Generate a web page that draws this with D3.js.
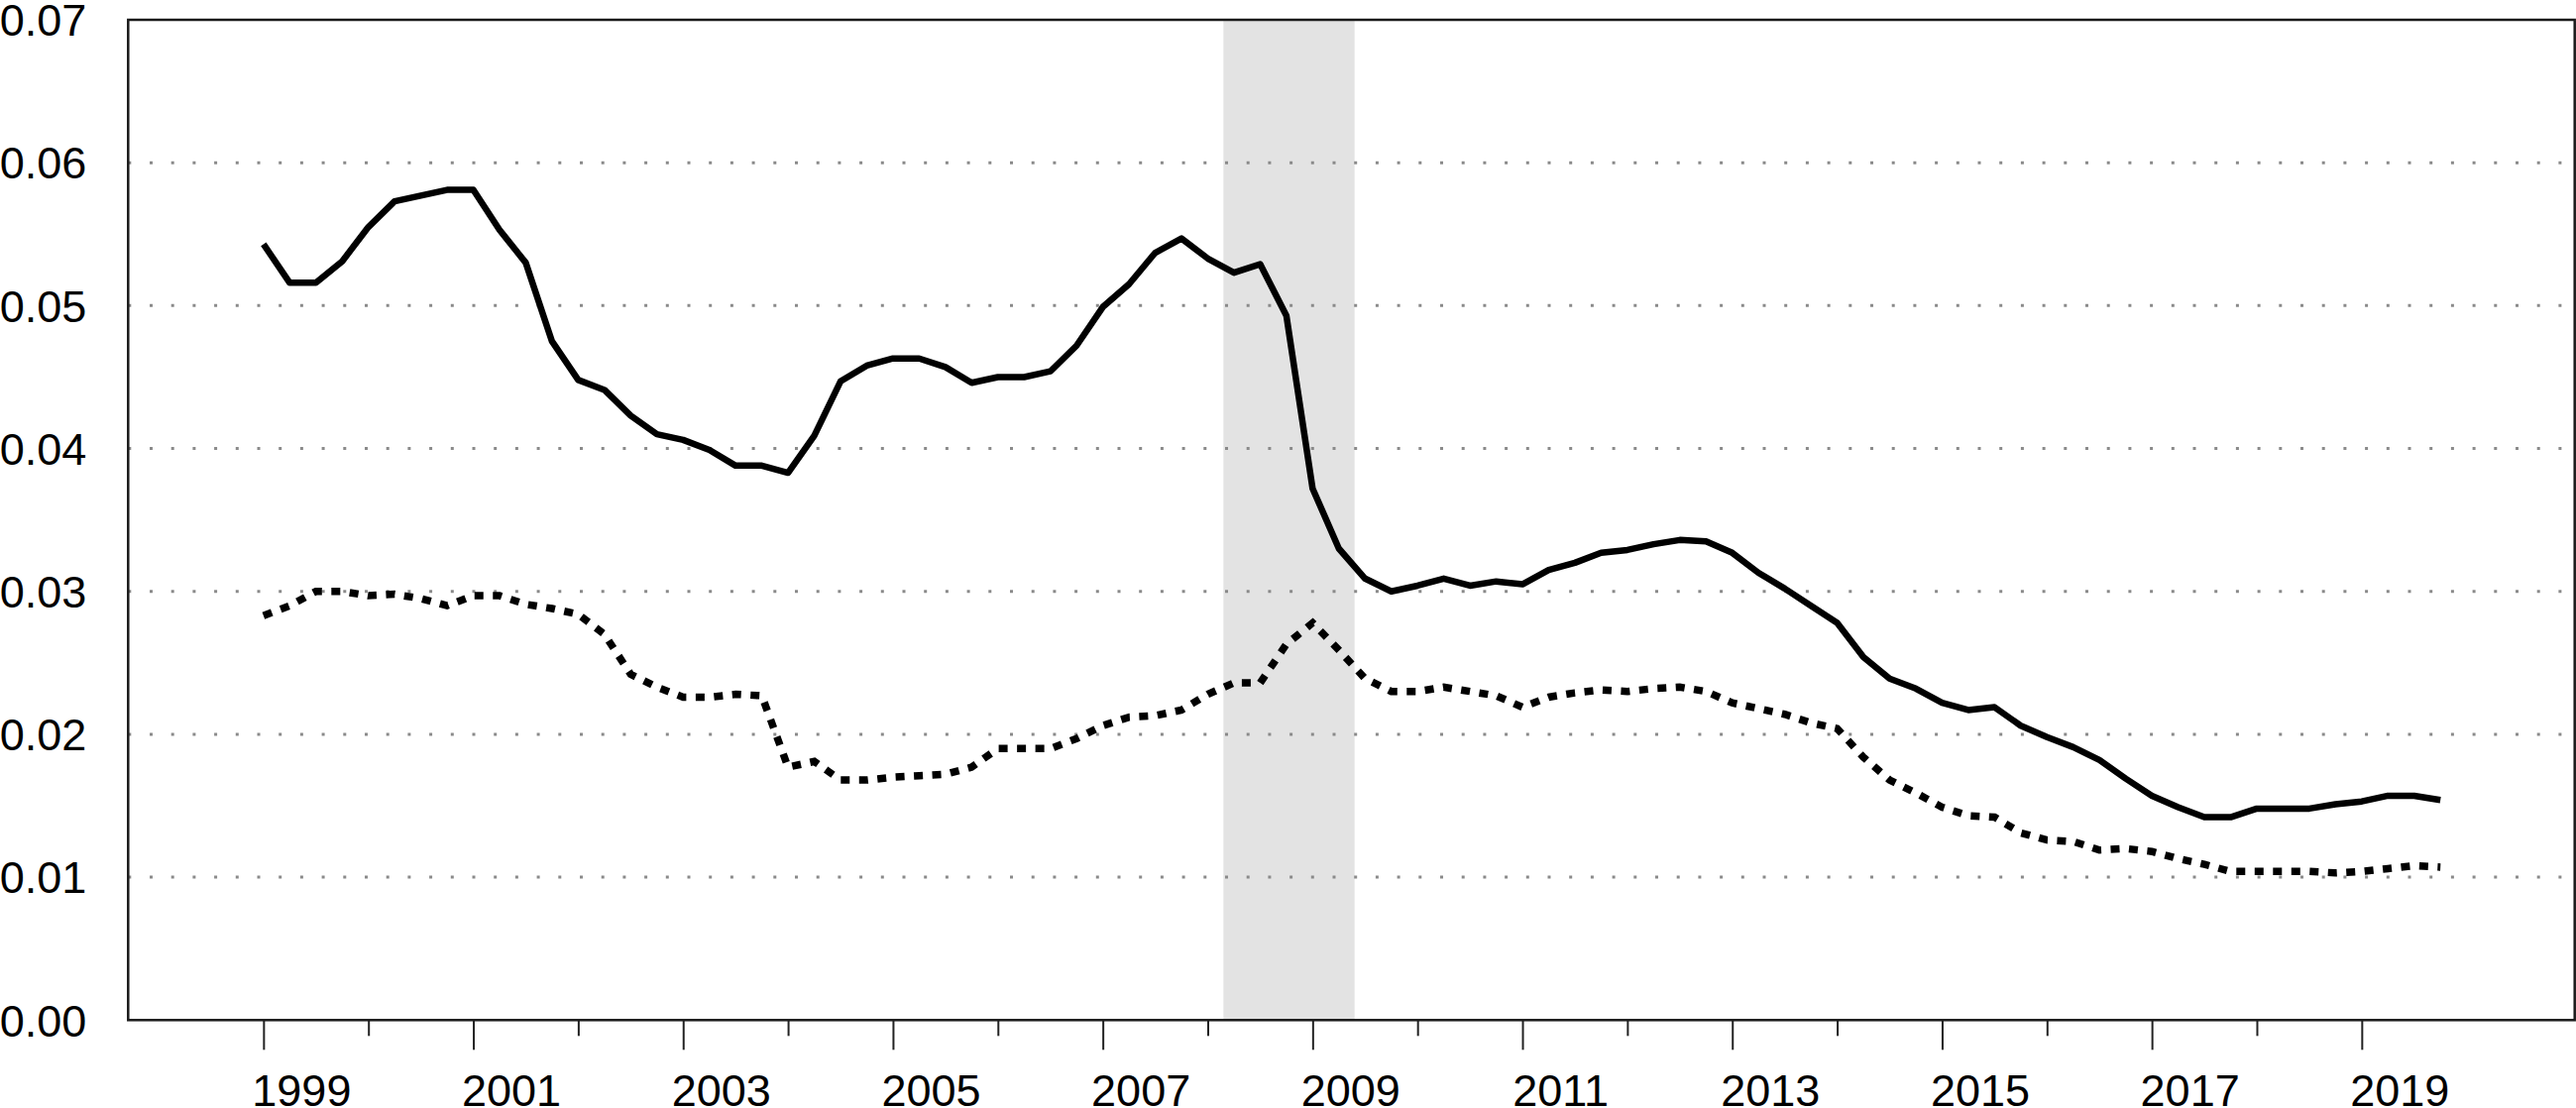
<!DOCTYPE html>
<html>
<head>
<meta charset="utf-8">
<script src="https://cdnjs.cloudflare.com/ajax/libs/d3/7.8.5/d3.min.js"></script>
<style>
    body { margin: 0; background: #fff; }
    svg { display: block; font-family: "Liberation Sans", Arial, sans-serif; }
</style>
</head>
<body>
<script>
// years of the quarterly sample (4 values per year, Q1..Q4)
var years = [1999, 2000, 2001, 2002, 2003, 2004, 2005, 2006, 2007, 2008, 2009,
    2010, 2011, 2012, 2013, 2014, 2015, 2016, 2017, 2018, 2019];

// solid series
var solidValues = [
    0.0543, 0.0516, 0.0516, 0.0531,
    0.0555, 0.0573, 0.0577, 0.0581,
    0.0581, 0.0553, 0.0530, 0.0475,
    0.0448, 0.0441, 0.0423, 0.0410,
    0.0406, 0.0399, 0.0388, 0.0388,
    0.0383, 0.0409, 0.0447, 0.0458,
    0.0463, 0.0463, 0.0457, 0.0446,
    0.0450, 0.0450, 0.0454, 0.0472,
    0.0499, 0.0515, 0.0537, 0.0547,
    0.0533, 0.0523, 0.0529, 0.0493,
    0.0372, 0.0330, 0.0309, 0.0300,
    0.0304, 0.0309, 0.0304, 0.0307,
    0.0305, 0.0315, 0.0320, 0.0327,
    0.0329, 0.0333, 0.0336, 0.0335,
    0.0327, 0.0313, 0.0302, 0.0290,
    0.0278, 0.0254, 0.0239, 0.0232,
    0.0222, 0.0217, 0.0219, 0.0206,
    0.0198, 0.0191, 0.0182, 0.0169,
    0.0157, 0.0149, 0.0142, 0.0142,
    0.0148, 0.0148, 0.0148, 0.0151,
    0.0153, 0.0157, 0.0157, 0.0154
];

// dotted series
var dottedValues = [
    0.0283, 0.0290, 0.0300, 0.0300,
    0.0297, 0.0298, 0.0295, 0.0290,
    0.0297, 0.0297, 0.0291, 0.0288,
    0.0284, 0.0270, 0.0242, 0.0233,
    0.0226, 0.0226, 0.0228, 0.0227,
    0.0177, 0.0181, 0.0168, 0.0168,
    0.0170, 0.0171, 0.0172, 0.0177,
    0.0190, 0.0190, 0.0190, 0.0197,
    0.0206, 0.0212, 0.0213, 0.0217,
    0.0228, 0.0236, 0.0236, 0.0263,
    0.0278, 0.0259, 0.0239, 0.0230,
    0.0230, 0.0233, 0.0230, 0.0227,
    0.0219, 0.0226, 0.0229, 0.0231,
    0.0230, 0.0232, 0.0233, 0.0230,
    0.0222, 0.0218, 0.0214, 0.0208,
    0.0204, 0.0184, 0.0168, 0.0159,
    0.0149, 0.0143, 0.0142, 0.0131,
    0.0126, 0.0125, 0.0119, 0.0120,
    0.0118, 0.0113, 0.0109, 0.0104,
    0.0104, 0.0104, 0.0104, 0.0103,
    0.0104, 0.0106, 0.0108, 0.0107
];

// shaded recession band (start, end)
var recession = [2008.15, 2009.4];

// axis ticks
var yTicks = [0, 0.01, 0.02, 0.03, 0.04, 0.05, 0.06, 0.07];
var gridValues = [0.01, 0.02, 0.03, 0.04, 0.05, 0.06];
var majorYears = [1999, 2001, 2003, 2005, 2007, 2009, 2011, 2013, 2015, 2017, 2019];
var minorYears = [2000, 2002, 2004, 2006, 2008, 2010, 2012, 2014, 2016, 2018];
var quarterOffsets = [0, 0.25, 0.5, 0.75];

function buildSeries(values) {
    var out = [];
    years.forEach(function (yr, i) {
        quarterOffsets.forEach(function (q, j) {
            out.push({t: yr + q, v: values[i * 4 + j]});
        });
    });
    return out;
}

var solid = buildSeries(solidValues);
var dotted = buildSeries(dottedValues);

// set the dimensions and margins of the graph
var W = 2599, H = 1118;
var margin = {top: 20, right: 1.3, bottom: 88.7, left: 129.3},
    width = W - margin.left - margin.right,
    height = H - margin.top - margin.bottom;

var x = d3.scaleLinear().domain([1997.71, 2021.03]).range([0, width]);
var y = d3.scaleLinear().domain([0, 0.07]).range([height, 0]);

var svg = d3.select("body").append("svg")
    .attr("width", W)
    .attr("height", H)
    .append("g")
    .attr("transform", "translate(" + margin.left + "," + margin.top + ")");

// recession band
svg.append("rect")
    .attr("x", x(recession[0]))
    .attr("y", 0)
    .attr("width", x(recession[1]) - x(recession[0]))
    .attr("height", height)
    .attr("fill", "#e3e3e3");

// dotted grid lines
svg.selectAll(".grid")
    .data(gridValues)
    .enter().append("line")
    .attr("class", "grid")
    .attr("x1", 0)
    .attr("x2", width)
    .attr("y1", function (d) { return y(d); })
    .attr("y2", function (d) { return y(d); })
    .attr("stroke", "#8a8a8a")
    .attr("stroke-width", 3)
    .attr("stroke-dasharray", "3,18.7");

var line = d3.line()
    .x(function (d) { return x(d.t); })
    .y(function (d) { return y(d.v); });

svg.append("path")
    .datum(dotted)
    .attr("d", line)
    .attr("fill", "none")
    .attr("stroke", "#000")
    .attr("stroke-width", 7.5)
    .attr("stroke-dasharray", "9,9.5");

svg.append("path")
    .datum(solid)
    .attr("d", line)
    .attr("fill", "none")
    .attr("stroke", "#000")
    .attr("stroke-width", 6.5)
    .attr("stroke-linejoin", "round");

// y axis (labels only)
var yAxis = svg.append("g")
    .call(d3.axisLeft(y).tickValues(yTicks).tickSize(0).tickPadding(42)
        .tickFormat(d3.format(".2f")));
yAxis.select(".domain").remove();
yAxis.selectAll("text")
    .attr("fill", "#000")
    .attr("font-size", "45px")
    .attr("font-family", "Liberation Sans, Arial, sans-serif")
    .attr("dy", "0.35em");

// x axis: minor ticks
var xMinor = svg.append("g")
    .attr("transform", "translate(0," + height + ")")
    .call(d3.axisBottom(x).tickValues(minorYears).tickSize(16).tickFormat(""));
xMinor.select(".domain").remove();
xMinor.selectAll("line").attr("stroke", "#222").attr("stroke-width", 2);

// x axis: major ticks with labels
var xMajor = svg.append("g")
    .attr("transform", "translate(0," + height + ")")
    .call(d3.axisBottom(x).tickValues(majorYears).tickSize(30).tickFormat(d3.format("d")));
xMajor.select(".domain").remove();
xMajor.selectAll("line").attr("stroke", "#222").attr("stroke-width", 2);
xMajor.selectAll("text")
    .attr("fill", "#000")
    .attr("font-size", "45px")
    .attr("font-family", "Liberation Sans, Arial, sans-serif")
    .attr("y", 87)
    .attr("dy", 0)
    .attr("dx", 38);

// frame around the plot
svg.append("rect")
    .attr("x", 0)
    .attr("y", 0)
    .attr("width", width)
    .attr("height", height)
    .attr("fill", "none")
    .attr("stroke", "#1a1a1a")
    .attr("stroke-width", 2.5);
</script>
</body>
</html>
